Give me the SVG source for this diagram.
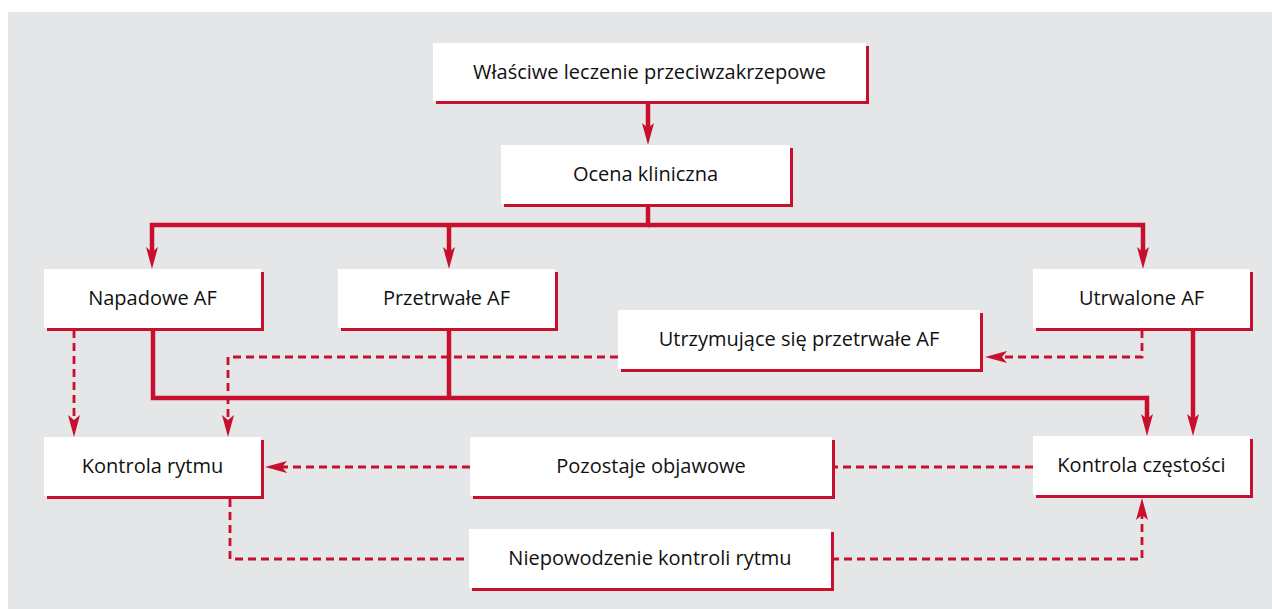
<svg xmlns="http://www.w3.org/2000/svg" width="1272" height="609" viewBox="0 0 1272 609">
  <style>
    .box { fill: #ffffff; }
    .shadow { fill: #c8102e; }
    .label { font-family: "Open Sans", "Noto Sans", "Liberation Sans", sans-serif; font-size: 20px; fill: #111111; text-anchor: middle; }
    .solid { fill: none; stroke: #c8102e; stroke-width: 4.5; }
    .dashed { fill: none; stroke: #c8102e; stroke-width: 2.8; stroke-dasharray: 8 5; }
  </style>
  <defs>
    <marker id="arrow" markerUnits="userSpaceOnUse" markerWidth="24" markerHeight="14" refX="5" refY="6.5" orient="auto">
      <path d="M0,0.5 L22,6.5 L0,12.5 L5,6.5 z" fill="#c8102e"/>
    </marker>
  </defs>

  <!-- panel background -->
  <rect x="8" y="12" width="1264" height="597" fill="#e5e6e8"/>

  <!-- connectors -->
  <g id="connectors">
    <path class="solid" d="M648,104 V128" marker-end="url(#arrow)"/>
    <path class="solid" d="M648,206 V225 H152 V252" marker-end="url(#arrow)"/>
    <path class="solid" d="M648,225 H1143 V252" marker-end="url(#arrow)"/>
    <path class="solid" d="M449,225 V252" marker-end="url(#arrow)"/>
    <path class="solid" d="M153,330 V398 H1147 V419" marker-end="url(#arrow)"/>
    <path class="solid" d="M449,330 V398"/>
    <path class="solid" d="M1193,330 V419" marker-end="url(#arrow)"/>

    <path class="dashed" d="M74,330 V420" marker-end="url(#arrow)"/>
    <path class="dashed" d="M618,357 H228 V420" marker-end="url(#arrow)"/>
    <path class="dashed" d="M1142,330 V357 H1002" marker-end="url(#arrow)"/>
    <path class="dashed" d="M1033,467 H832"/>
    <path class="dashed" d="M470,467 H282" marker-end="url(#arrow)"/>
    <path class="dashed" d="M230,499 V559 H469"/>
    <path class="dashed" d="M831,559 H1142 V515" marker-end="url(#arrow)"/>
  </g>

  <!-- nodes -->
  <g id="n-leczenie">
    <rect class="shadow" x="436" y="46" width="433" height="58"/>
    <rect class="box" x="433" y="43" width="433" height="58"/>
    <text class="label" x="649.5" y="79">Właściwe leczenie przeciwzakrzepowe</text>
  </g>
  <g id="n-ocena">
    <rect class="shadow" x="504" y="148" width="289" height="59"/>
    <rect class="box" x="501" y="145" width="289" height="59"/>
    <text class="label" x="645.5" y="181">Ocena kliniczna</text>
  </g>
  <g id="n-napadowe">
    <rect class="shadow" x="47" y="272" width="217" height="59"/>
    <rect class="box" x="44" y="269" width="217" height="59"/>
    <text class="label" x="152.5" y="305">Napadowe AF</text>
  </g>
  <g id="n-przetrwale">
    <rect class="shadow" x="341" y="272" width="217" height="59"/>
    <rect class="box" x="338" y="269" width="217" height="59"/>
    <text class="label" x="446.5" y="305">Przetrwałe AF</text>
  </g>
  <g id="n-utrwalone">
    <rect class="shadow" x="1036" y="272" width="217" height="59"/>
    <rect class="box" x="1033" y="269" width="217" height="59"/>
    <text class="label" x="1141.5" y="305">Utrwalone AF</text>
  </g>
  <g id="n-utrzymujace">
    <rect class="shadow" x="621" y="313" width="362" height="59"/>
    <rect class="box" x="618" y="310" width="362" height="59"/>
    <text class="label" x="799" y="346">Utrzymujące się przetrwałe AF</text>
  </g>
  <g id="n-kontrola-rytmu">
    <rect class="shadow" x="47" y="440" width="217" height="59"/>
    <rect class="box" x="44" y="437" width="217" height="59"/>
    <text class="label" x="152.5" y="473">Kontrola rytmu</text>
  </g>
  <g id="n-pozostaje">
    <rect class="shadow" x="473" y="440" width="362" height="59"/>
    <rect class="box" x="470" y="437" width="362" height="59"/>
    <text class="label" x="651" y="473">Pozostaje objawowe</text>
  </g>
  <g id="n-kontrola-czestosci">
    <rect class="shadow" x="1036" y="439" width="217" height="59"/>
    <rect class="box" x="1033" y="436" width="217" height="59"/>
    <text class="label" x="1141.5" y="472">Kontrola częstości</text>
  </g>
  <g id="n-niepowodzenie">
    <rect class="shadow" x="472" y="532" width="362" height="59"/>
    <rect class="box" x="469" y="529" width="362" height="59"/>
    <text class="label" x="650" y="565">Niepowodzenie kontroli rytmu</text>
  </g>
</svg>
